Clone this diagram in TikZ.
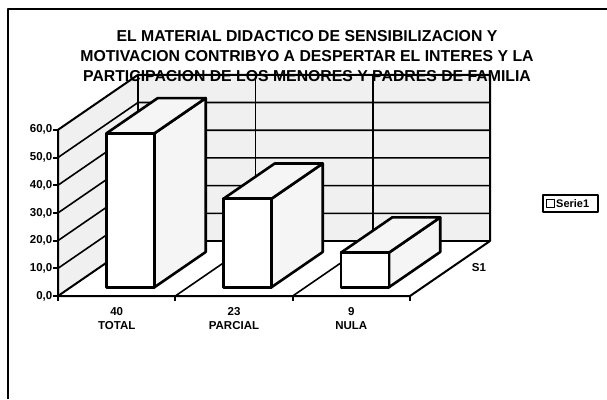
\documentclass[tikz,border=0pt]{standalone}
\usepackage{fontspec}
\setmainfont{Liberation Sans}
\usetikzlibrary{calc}
\newcommand\mybar[2]{%
  \path (#1,287.2) coordinate (fbl) ++(48,0) coordinate (fbr)
        ++(0,-#2) coordinate (ftr) ++(-48,0) coordinate (ftl);
  \filldraw[barside] (fbr) -- (ftr) -- ($(ftr)+(51.2,-35.2)$) -- ($(fbr)+(51.2,-35.2)$) -- cycle;
  \filldraw[barside] (ftl) -- (ftr) -- ($(ftr)+(51.2,-35.2)$) -- ($(ftl)+(51.2,-35.2)$) -- cycle;
  \filldraw[barfront] (fbl) rectangle (ftr);
}
\begin{document}
\begin{tikzpicture}[x=1pt,y=-1pt,line join=round,
  wall/.style={fill=black!6,draw=none},
  edge/.style={line width=2pt},
  grid/.style={line width=1.6pt},
  barfront/.style={fill=white,draw,line width=2.6pt},
  barside/.style={fill=black!4,draw,line width=2.6pt},
  lab/.style={font=\fontsize{11.5}{12}\selectfont\bfseries,inner sep=0pt},
  ttl/.style={font=\fontsize{15.8}{20}\selectfont\bfseries,align=center,inner sep=0pt}]
\useasboundingbox (0,0) rectangle (607,399);
\draw[line width=2.2pt] (8,399) -- (8,9) -- (607,9);
% frame points of the 3D box
\coordinate (FL) at (58,296);
\coordinate (FR) at (410,296);
\coordinate (BL) at (138,241);
\coordinate (BR) at (490,241);
\coordinate (FT) at (58,129.8);
\coordinate (BLT) at (138,74.8);
\coordinate (BRT) at (490,74.8);
\fill[wall] (FL) -- (FT) -- (BLT) -- (BL) -- cycle;
\fill[wall] (BL) -- (BLT) -- (BRT) -- (BR) -- cycle;
% title
\node[ttl] (title) at (307,56) {EL MATERIAL DIDACTICO DE SENSIBILIZACION Y\\MOTIVACION CONTRIBYO A DESPERTAR EL INTERES Y LA\\PARTICIPACION DE LOS MENORES Y PADRES DE FAMILIA};
% gridlines
\foreach \k in {1,...,5}{
  \draw[grid] (58,{296-27.7*\k}) -- (138,{241-27.7*\k}) -- (490,{241-27.7*\k});
}
\draw[grid] (255.3,241) -- (255.3,74.8);
\draw[grid] (372.7,241) -- (372.7,74.8);
\draw[grid] (175.3,296) -- (255.3,241);
\draw[grid] (292.7,296) -- (372.7,241);
% box edges
\draw[edge] (FT) -- (FL) -- (FR) -- (BR) -- (BRT) -- (BLT) -- cycle;
\draw[edge] (BLT) -- (BL) -- (BR);
\draw[edge] (FL) -- (BL);
% value axis
\foreach \k/\t in {0/{0,0},1/{10,0},2/{20,0},3/{30,0},4/{40,0},5/{50,0},6/{60,0}}{
  \draw[edge] (53,{296-27.7*\k}) -- (58,{296-27.7*\k});
  \node[lab,anchor=east] (yl\k) at (52.5,{296-27.7*\k}) {\t};
}
% category ticks
\foreach \x in {58,175.3,292.7,410}{
  \draw[edge] (\x,296) -- (\x,301);
}
% bars
\mybar{106.5}{153.9}
\mybar{223.5}{88.5}
\mybar{341}{34.6}
% labels
\node[lab] (v1) at (116.7,312) {40};
\node[lab] (c1) at (116.7,325.5) {TOTAL};
\node[lab] (v2) at (234,312) {23};
\node[lab] (c2) at (234,325.5) {PARCIAL};
\node[lab] (v3) at (351.3,312) {9};
\node[lab] (c3) at (351.3,325.5) {NULA};
\node[lab] (s1) at (479,268) {S1};
% legend
\node[draw,line width=1.6pt,minimum width=55pt,minimum height=17pt,inner sep=0pt] (legend) at (570.5,203.5) {};
\node[draw,line width=1.2pt,minimum size=8pt,inner sep=0pt] (legkey) at (550.5,203.5) {};
\node[lab,anchor=west,font=\fontsize{11}{12}\selectfont\bfseries] (legtxt) at (556,203.8) {Serie1};
\end{tikzpicture}
\end{document}
